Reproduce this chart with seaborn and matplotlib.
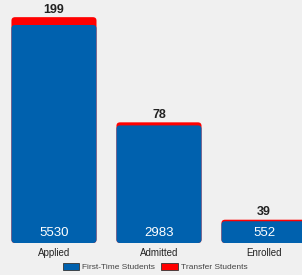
import matplotlib
matplotlib.use('Agg')
import matplotlib.pyplot as plt
import seaborn as sns
import pandas as pd
from matplotlib.patches import FancyBboxPatch, Patch

# Data
stages = ['Applied', 'Admitted', 'Enrolled']
first_time = [5530, 2983, 552]
transfer = [199, 78, 39]

blue = '#0061ae'
red = '#ff0000'
bg = '#f0f0f0'

df = pd.DataFrame({'stage': stages, 'first_time': first_time, 'transfer': transfer})
df['total'] = df['first_time'] + df['transfer']

sns.set_style('white')
plt.rcParams['font.family'] = ['Liberation Sans', 'DejaVu Sans']

fig = plt.figure(figsize=(3.02, 2.75), dpi=100, facecolor=bg)
ax = fig.add_axes([0, 32 / 275, 1, 243 / 275])
ax.set_facecolor(bg)

sns.barplot(data=df, x='stage', y='total', color=red, width=0.81, saturation=1, ax=ax)
sns.barplot(data=df, x='stage', y='first_time', color=blue, width=0.81, saturation=1, ax=ax)

ax.set_xlim(-0.514, 2.362)
ax.set_ylim(0, 243 * 5530 / 218)

# round the bar corners
for p in list(ax.patches):
    x, y = p.get_xy()
    w, h = p.get_width(), p.get_height()
    fc = p.get_facecolor()
    p.remove()
    ax.add_patch(FancyBboxPatch((x, y), w, h, boxstyle='round,pad=0,rounding_size=0.035',
                                mutation_aspect=2500, facecolor=fc, edgecolor='none'))

for i in range(len(stages)):
    ax.text(i, 110, str(first_time[i]), color='white', ha='center', va='bottom', fontsize=9.5)
    ax.text(i, df['total'][i] + 35, str(transfer[i]), color='#222222', ha='center', va='bottom',
            fontsize=9, fontweight='bold')

sns.despine(ax=ax, left=True, bottom=True)
ax.set_xlabel('')
ax.set_ylabel('')
ax.set_yticks([])
ax.tick_params(axis='x', length=0, pad=3.5, labelsize=7, colors='#222222')

handles = [Patch(facecolor=blue, edgecolor='#333333', linewidth=0.6, label='First-Time Students'),
           Patch(facecolor=red, edgecolor='#333333', linewidth=0.6, label='Transfer Students')]
fig.legend(handles=handles, loc='center', bbox_to_anchor=(155 / 302, 1 - 267 / 275), ncol=2,
           frameon=False, fontsize=6, handlelength=2.0, handleheight=0.9, handletextpad=0.3,
           columnspacing=0.8, labelcolor='#444444')

fig.savefig('out.png', dpi=100, facecolor=bg)
